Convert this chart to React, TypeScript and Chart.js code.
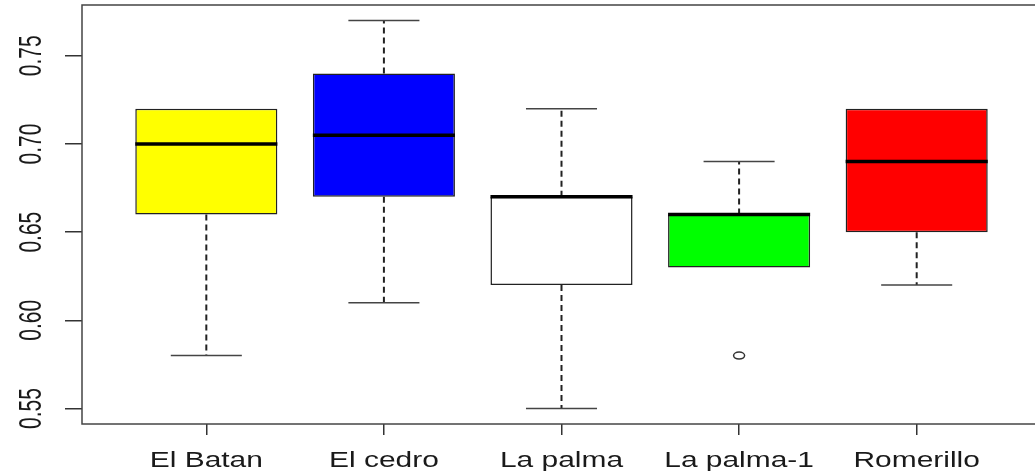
import { useEffect, useRef } from "react";
import { Chart, registerables } from "chart.js";

Chart.register(...registerables);

const CATEGORIES = ["El Batan", "El cedro", "La palma", "La palma-1", "Romerillo"];
const Q1 = [0.66, 0.67, 0.62, 0.63, 0.65];
const MEDIAN = [0.7, 0.705, 0.67, 0.66, 0.69];
const Q3 = [0.72, 0.74, 0.67, 0.66, 0.72];
const WHISKER_LOW = [0.58, 0.61, 0.55, 0.63, 0.62];
const WHISKER_HIGH = [0.72, 0.77, 0.72, 0.69, 0.72];
const OUTLIERS: number[][] = [[], [], [], [0.58], []];
const BOX_COLORS = ["#FFFF00", "#0000FF", "#FFFFFF", "#00FF00", "#FF0000"];
const Y_TICKS = [0.55, 0.6, 0.65, 0.7, 0.75];
const Y_TICK_LABELS = ["0.55", "0.60", "0.65", "0.70", "0.75"];
const X_POSITIONS = [1, 2, 3, 4, 5];

const FONT = "'Liberation Sans', Arial, sans-serif";

const boxPlugin = {
  id: "boxExtras",
  afterDatasetsDraw(chart: any) {
    const ctx = chart.ctx;
    const xs = chart.scales.x;
    const ys = chart.scales.y;
    const meta = chart.getDatasetMeta(0);
    ctx.save();
    CATEGORIES.forEach((_, i) => {
      const bar = meta.data[i];
      const cx = xs.getPixelForValue(X_POSITIONS[i]);
      const half = bar.width / 2;
      const capHalf = half / 2;
      const yQ1 = ys.getPixelForValue(Q1[i]);
      const yQ3 = ys.getPixelForValue(Q3[i]);
      const yMed = ys.getPixelForValue(MEDIAN[i]);
      const yLo = ys.getPixelForValue(WHISKER_LOW[i]);
      const yHi = ys.getPixelForValue(WHISKER_HIGH[i]);
      ctx.strokeStyle = "#222";
      ctx.lineWidth = 2;
      ctx.setLineDash([6, 4]);
      if (WHISKER_HIGH[i] > Q3[i]) {
        ctx.beginPath();
        ctx.moveTo(cx, yQ3);
        ctx.lineTo(cx, yHi);
        ctx.stroke();
      }
      if (WHISKER_LOW[i] < Q1[i]) {
        ctx.beginPath();
        ctx.moveTo(cx, yQ1);
        ctx.lineTo(cx, yLo);
        ctx.stroke();
      }
      ctx.setLineDash([]);
      ctx.strokeStyle = "#444";
      ctx.lineWidth = 1.5;
      ctx.beginPath();
      if (WHISKER_HIGH[i] > Q3[i]) {
        ctx.moveTo(cx - capHalf, yHi);
        ctx.lineTo(cx + capHalf, yHi);
      }
      if (WHISKER_LOW[i] < Q1[i]) {
        ctx.moveTo(cx - capHalf, yLo);
        ctx.lineTo(cx + capHalf, yLo);
      }
      ctx.stroke();
      ctx.strokeStyle = "#000";
      ctx.lineWidth = 3.5;
      ctx.beginPath();
      ctx.moveTo(cx - half, yMed);
      ctx.lineTo(cx + half, yMed);
      ctx.stroke();
      ctx.strokeStyle = "#333";
      ctx.lineWidth = 1.5;
      OUTLIERS[i].forEach((v) => {
        const oy = ys.getPixelForValue(v);
        ctx.beginPath();
        ctx.ellipse(cx, oy, 5.5, 3.5, 0, 0, Math.PI * 2);
        ctx.stroke();
      });
    });
    const a = chart.chartArea;
    ctx.strokeStyle = "#444";
    ctx.lineWidth = 1.5;
    ctx.strokeRect(a.left, a.top, a.right - a.left, a.bottom - a.top);
    ctx.restore();
  },
  afterDraw(chart: any) {
    const ctx = chart.ctx;
    const xs = chart.scales.x;
    const ys = chart.scales.y;
    ctx.save();
    ctx.fillStyle = "#1a1a1a";
    ctx.font = `22px ${FONT}`;
    CATEGORIES.forEach((c, i) => {
      const x = xs.getPixelForValue(X_POSITIONS[i]);
      ctx.save();
      ctx.translate(x, 467);
      ctx.scale(1.36, 1);
      ctx.textAlign = "center";
      ctx.textBaseline = "alphabetic";
      ctx.fillText(c, 0, 0);
      ctx.restore();
    });
    ctx.font = `21px ${FONT}`;
    Y_TICKS.forEach((v, i) => {
      const y = ys.getPixelForValue(v);
      ctx.save();
      ctx.translate(41, y);
      ctx.scale(1.45, 1);
      ctx.rotate(-Math.PI / 2);
      ctx.textAlign = "center";
      ctx.textBaseline = "alphabetic";
      ctx.fillText(Y_TICK_LABELS[i], 0, 0);
      ctx.restore();
    });
    ctx.restore();
  },
};

export default function App() {
  const ref = useRef<HTMLCanvasElement | null>(null);
  useEffect(() => {
    if (!ref.current) return;
    document.body.style.margin = "0";
    document.body.style.overflow = "hidden";
    const chart = new Chart(ref.current, {
      type: "bar",
      data: {
        datasets: [
          {
            data: CATEGORIES.map((_, i) => ({ x: X_POSITIONS[i], y: [Q1[i], Q3[i]] })) as any,
            backgroundColor: BOX_COLORS,
            borderColor: "#222",
            borderWidth: 1.5,
            borderSkipped: false,
            barPercentage: 0.8,
            categoryPercentage: 1,
          },
        ],
      },
      options: {
        animation: false,
        responsive: true,
        maintainAspectRatio: false,
        layout: { padding: { left: 65, right: 19, top: 5, bottom: 36 } },
        plugins: { legend: { display: false }, tooltip: { enabled: false } },
        scales: {
          x: {
            type: "linear",
            min: 0.3,
            max: 5.7,
            offset: false,
            afterBuildTicks: (s: any) => {
              s.ticks = X_POSITIONS.map((v) => ({ value: v }));
            },
            ticks: { display: false },
            border: { display: false },
            grid: { offset: false, drawOnChartArea: false, drawTicks: true, tickLength: 11, color: "#333", lineWidth: 1.5 },
          },
          y: {
            type: "linear",
            min: 0.5412,
            max: 0.7788,
            afterBuildTicks: (s: any) => {
              s.ticks = Y_TICKS.map((v) => ({ value: v }));
            },
            ticks: { display: false },
            border: { display: false },
            grid: { drawOnChartArea: false, drawTicks: true, tickLength: 17, color: "#333", lineWidth: 1.5 },
          },
        },
      },
      plugins: [boxPlugin],
    });
    return () => chart.destroy();
  }, []);
  return (
    <div style={{ position: "absolute", left: 0, top: 0, width: 1035, height: 471, overflow: "hidden", background: "#fff" }}>
      <div style={{ width: 1060, height: 471, position: "relative" }}>
        <canvas ref={ref} />
      </div>
    </div>
  );
}
